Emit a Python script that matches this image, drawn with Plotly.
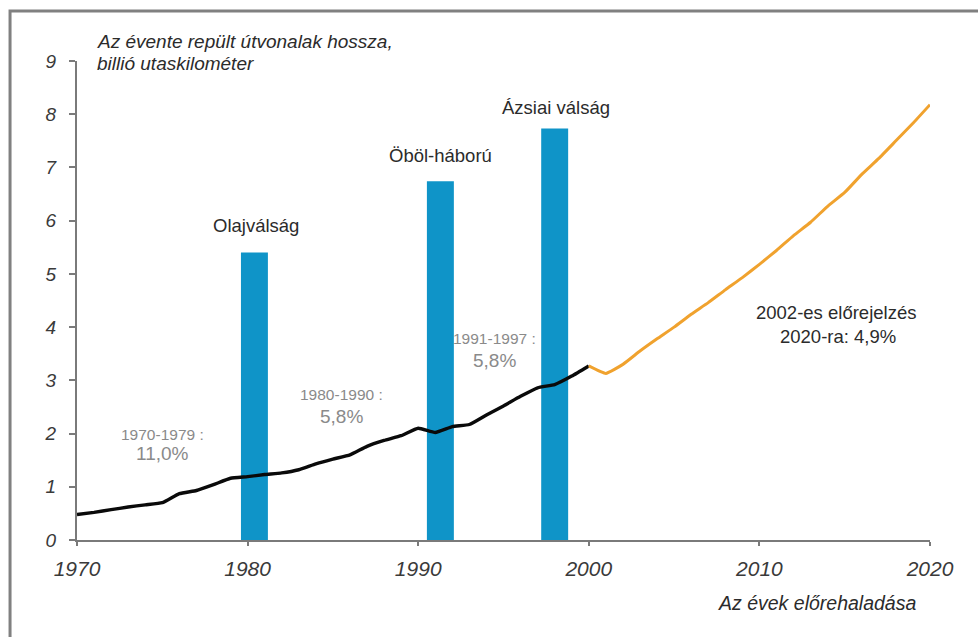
import plotly.graph_objects as go

# ---- data ----
hist_years = list(range(1970, 2001))
hist_values = [0.48, 0.52, 0.57, 0.62, 0.66, 0.70, 0.87, 0.93, 1.04, 1.16,
               1.19, 1.23, 1.26, 1.32, 1.43, 1.52, 1.60, 1.76, 1.87, 1.96,
               2.10, 2.02, 2.13, 2.17, 2.35, 2.52, 2.70, 2.86, 2.92, 3.08, 3.27]

fc_years = list(range(2000, 2021))
fc_values = [3.27, 3.13, 3.30, 3.55, 3.78, 4.00, 4.24, 4.46, 4.70, 4.93,
             5.18, 5.44, 5.72, 5.97, 6.27, 6.53, 6.87, 7.17, 7.50, 7.83, 8.18]

crisis_years = [1980.4, 1991.3, 1998.0]
crisis_heights = [5.40, 6.74, 7.73]
crisis_labels = ["Olajválság", "Öböl-háború", "Ázsiai válság"]

x_ticks = [1970, 1980, 1990, 2000, 2010, 2020]
y_ticks = list(range(0, 10))

FONT = "Liberation Sans, Arial, sans-serif"
DARK = "#2b2b2b"
GRAY = "#8a8a8a"

fig = go.Figure()
fig.add_trace(go.Bar(x=crisis_years, y=crisis_heights, width=1.58,
                     marker=dict(color="#0f94c8", line=dict(width=0)),
                     hoverinfo="skip"))
fig.add_trace(go.Scatter(x=hist_years, y=hist_values, mode="lines",
                         line=dict(color="#0a0a0a", width=3.4, shape="spline", smoothing=0.4)))
fig.add_trace(go.Scatter(x=fc_years, y=fc_values, mode="lines",
                         line=dict(color="#f0a22e", width=3, shape="spline", smoothing=0.4)))

ann = []
label_pos = [(1980.5, 5.90), (1991.3, 7.22), (1998.1, 8.12)]
for (lx, ly), t in zip(label_pos, crisis_labels):
    ann.append(dict(x=lx, y=ly, text=t, showarrow=False,
                    xanchor="center", yanchor="middle",
                    font=dict(size=18.5, color=DARK, family=FONT)))

def gray_pair(x, y1, t1, x2, y2, t2):
    ann.append(dict(x=x, y=y1, text=t1, showarrow=False,
                    xanchor="center", yanchor="middle",
                    font=dict(size=15.5, color=GRAY, family=FONT)))
    ann.append(dict(x=x2, y=y2, text=t2, showarrow=False,
                    xanchor="center", yanchor="middle",
                    font=dict(size=19, color=GRAY, family=FONT)))

gray_pair(1975.0, 1.99, "1970-1979 :", 1975.0, 1.62, "11,0%")
gray_pair(1985.5, 2.73, "1980-1990 :", 1985.5, 2.32, "5,8%")
gray_pair(1994.5, 3.78, "1991-1997 :", 1994.45, 3.38, "5,8%")

ann.append(dict(x=2014.5, y=4.27, text="2002-es előrejelzés", showarrow=False,
                xanchor="center", yanchor="middle",
                font=dict(size=18.5, color=DARK, family=FONT)))
ann.append(dict(x=2014.6, y=3.82, text="2020-ra: 4,9%", showarrow=False,
                xanchor="center", yanchor="middle",
                font=dict(size=18.5, color=DARK, family=FONT)))
ann.append(dict(xref="paper", yref="paper", x=0.8675, y=-0.1315,
                xanchor="center", yanchor="middle",
                text="<i>Az évek előrehaladása</i>", showarrow=False,
                font=dict(size=19.5, color=DARK, family=FONT)))
ann.append(dict(xref="paper", yref="paper", x=0.0211, y=1.0397,
                text="<i>Az évente repült útvonalak hossza,</i>",
                showarrow=False, xanchor="left", yanchor="middle",
                font=dict(size=19, color=DARK, family=FONT)))
ann.append(dict(xref="paper", yref="paper", x=0.0211, y=0.994,
                text="<i>billió utaskilométer</i>",
                showarrow=False, xanchor="left", yanchor="middle",
                font=dict(size=19, color=DARK, family=FONT)))

fig.update_layout(
    width=978, height=637,
    margin=dict(l=77, r=48, t=61, b=97),
    paper_bgcolor="white", plot_bgcolor="white",
    showlegend=False,
    annotations=ann,
    shapes=[dict(type="rect", xref="paper", yref="paper",
                 x0=-0.0785, x1=1.08, y0=-0.25, y1=1.1044,
                 line=dict(color="#808080", width=3), layer="below")],
)
fig.update_xaxes(range=[1970, 2020], tickvals=x_ticks,
                 ticktext=[f"<i>{v}</i>" for v in x_ticks],
                 showgrid=False, zeroline=False, showline=True,
                 linecolor="#7a7a7a", linewidth=2,
                 ticks="outside", ticklen=4, tickwidth=2, tickcolor="#7a7a7a",
                 tickfont=dict(size=21, color="#3a3a3a", family=FONT),
                 ticklabelstandoff=5)
fig.update_yaxes(range=[0, 9], tickvals=y_ticks,
                 ticktext=[f"<i>{v}</i>" for v in y_ticks],
                 showgrid=False, zeroline=False, showline=True,
                 linecolor="#7a7a7a", linewidth=2,
                 ticks="outside", ticklen=6, tickwidth=2, tickcolor="#7a7a7a",
                 tickfont=dict(size=19, color="#3a3a3a", family=FONT),
                 ticklabelstandoff=9)

fig.write_html("out.html")
